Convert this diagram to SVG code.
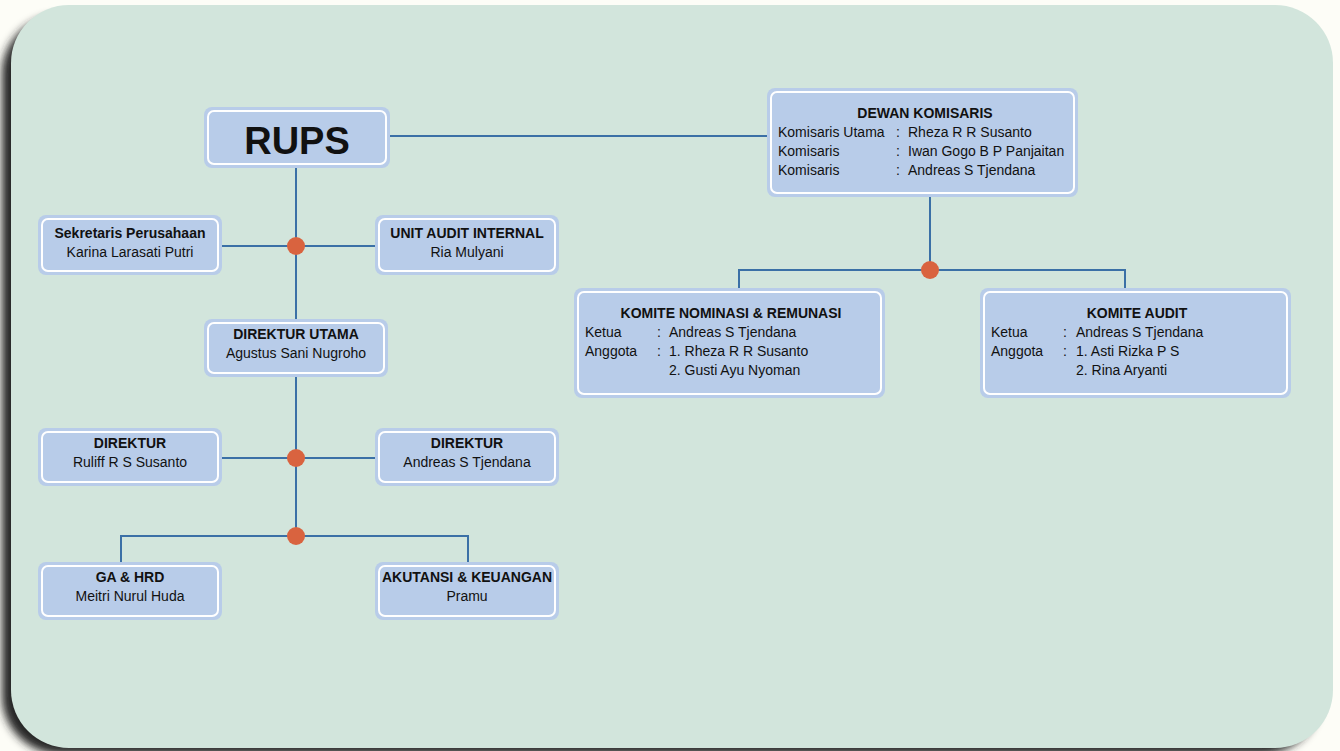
<svg xmlns="http://www.w3.org/2000/svg" width="1340" height="751" viewBox="0 0 1340 751">
<defs>
<filter id="sh" x="-5%" y="-5%" width="110%" height="110%"><feGaussianBlur stdDeviation="4"/></filter>
</defs>
<style>
.box{fill:#b8cce9;}
.in{fill:none;stroke:#ffffff;stroke-width:2;}
.t{font-family:"Liberation Sans",Arial,sans-serif;font-size:14px;fill:#111;}
.b{font-weight:bold;}
.c{text-anchor:middle;}
.ln{fill:none;stroke:#3b70a6;stroke-width:2;}
.dot{fill:#d9633f;}
</style>
<rect x="0" y="0" width="1340" height="751" fill="#fdfdf7"/>
<rect x="2" y="16" width="1318" height="738" rx="58" fill="#262626" filter="url(#sh)"/>
<rect x="11" y="5" width="1322" height="743" rx="58" fill="#d2e5dc"/>

<g id="connectors">
<path class="ln" d="M390 136H768"/>
<path class="ln" d="M296 168V320M296 377V536M222 246H375M222 458H375"/>
<path class="ln" d="M121 562V536H468V562"/>
<path class="ln" d="M930 197V270M739 292V270H1125V292"/>
<circle class="dot" cx="296" cy="246" r="9"/>
<circle class="dot" cx="296" cy="458" r="9"/>
<circle class="dot" cx="296" cy="536" r="9"/>
<circle class="dot" cx="930" cy="270" r="9"/>
</g>

<g id="rups">
<rect class="box" x="204" y="107" width="186" height="61" rx="8"/>
<rect class="in" x="208" y="111" width="178" height="53" rx="6"/>
<text class="t b c" x="297" y="154" style="font-size:38px">RUPS</text>
</g>

<g id="dewan">
<rect class="box" x="767" y="88" width="311" height="109" rx="8"/>
<rect class="in" x="771" y="92" width="303" height="101" rx="6"/>
<text class="t b c" x="925" y="118">DEWAN KOMISARIS</text>
<text class="t" x="778" y="137">Komisaris Utama</text><text class="t" x="896" y="137">:</text><text class="t" x="908" y="137">Rheza R R Susanto</text>
<text class="t" x="778" y="156">Komisaris</text><text class="t" x="896" y="156">:</text><text class="t" x="908" y="156">Iwan Gogo B P Panjaitan</text>
<text class="t" x="778" y="175">Komisaris</text><text class="t" x="896" y="175">:</text><text class="t" x="908" y="175">Andreas S Tjendana</text>
</g>

<g id="komite-nominasi">
<rect class="box" x="574" y="288" width="311" height="110" rx="8"/>
<rect class="in" x="578" y="292" width="303" height="102" rx="6"/>
<text class="t b c" x="731" y="318">KOMITE NOMINASI &amp; REMUNASI</text>
<text class="t" x="585" y="337">Ketua</text><text class="t" x="657" y="337">:</text><text class="t" x="669" y="337">Andreas S Tjendana</text>
<text class="t" x="585" y="356">Anggota</text><text class="t" x="657" y="356">:</text><text class="t" x="669" y="356">1. Rheza R R Susanto</text>
<text class="t" x="669" y="375">2. Gusti Ayu Nyoman</text>
</g>

<g id="komite-audit">
<rect class="box" x="980" y="288" width="311" height="110" rx="8"/>
<rect class="in" x="984" y="292" width="303" height="102" rx="6"/>
<text class="t b c" x="1137" y="318">KOMITE AUDIT</text>
<text class="t" x="991" y="337">Ketua</text><text class="t" x="1063" y="337">:</text><text class="t" x="1076" y="337">Andreas S Tjendana</text>
<text class="t" x="991" y="356">Anggota</text><text class="t" x="1063" y="356">:</text><text class="t" x="1076" y="356">1. Asti Rizka P S</text>
<text class="t" x="1076" y="375">2. Rina Aryanti</text>
</g>

<g id="sekretaris">
<rect class="box" x="38" y="215" width="184" height="60" rx="8"/>
<rect class="in" x="42" y="219" width="176" height="52" rx="6"/>
<text class="t b c" x="130" y="238">Sekretaris Perusahaan</text>
<text class="t c" x="130" y="257">Karina Larasati Putri</text>
</g>

<g id="audit-internal">
<rect class="box" x="375" y="215" width="184" height="60" rx="8"/>
<rect class="in" x="379" y="219" width="176" height="52" rx="6"/>
<text class="t b c" x="467" y="238">UNIT AUDIT INTERNAL</text>
<text class="t c" x="467" y="257">Ria Mulyani</text>
</g>

<g id="direktur-utama">
<rect class="box" x="204" y="319" width="184" height="58" rx="8"/>
<rect class="in" x="208" y="323" width="176" height="50" rx="6"/>
<text class="t b c" x="296" y="339">DIREKTUR UTAMA</text>
<text class="t c" x="296" y="358">Agustus Sani Nugroho</text>
</g>

<g id="direktur-1">
<rect class="box" x="38" y="428" width="184" height="58" rx="8"/>
<rect class="in" x="42" y="432" width="176" height="50" rx="6"/>
<text class="t b c" x="130" y="448">DIREKTUR</text>
<text class="t c" x="130" y="467">Ruliff R S Susanto</text>
</g>

<g id="direktur-2">
<rect class="box" x="375" y="428" width="184" height="58" rx="8"/>
<rect class="in" x="379" y="432" width="176" height="50" rx="6"/>
<text class="t b c" x="467" y="448">DIREKTUR</text>
<text class="t c" x="467" y="467">Andreas S Tjendana</text>
</g>

<g id="ga-hrd">
<rect class="box" x="38" y="562" width="184" height="58" rx="8"/>
<rect class="in" x="42" y="566" width="176" height="50" rx="6"/>
<text class="t b c" x="130" y="582">GA &amp; HRD</text>
<text class="t c" x="130" y="601">Meitri Nurul Huda</text>
</g>

<g id="akutansi">
<rect class="box" x="375" y="562" width="184" height="58" rx="8"/>
<rect class="in" x="379" y="566" width="176" height="50" rx="6"/>
<text class="t b c" x="467" y="582">AKUTANSI &amp; KEUANGAN</text>
<text class="t c" x="467" y="601">Pramu</text>
</g>
</svg>
